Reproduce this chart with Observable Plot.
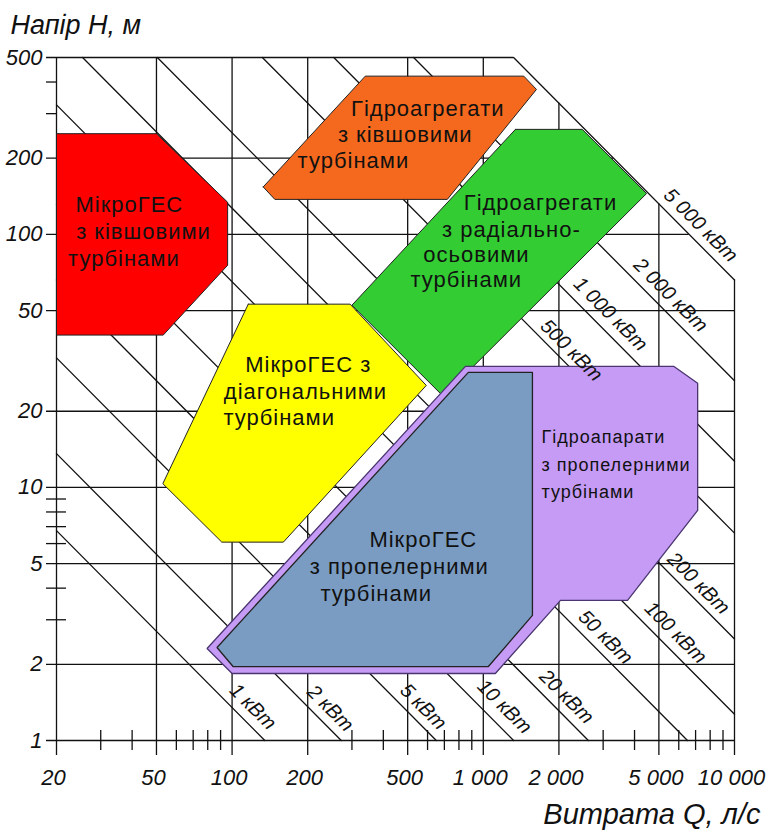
<!DOCTYPE html>
<html><head><meta charset="utf-8">
<script src="https://cdn.jsdelivr.net/npm/d3@7"></script>
<script src="https://cdn.jsdelivr.net/npm/@observablehq/plot@0.6"></script>
<style>
html,body{margin:0;padding:0;background:#fff;}
#chart svg{display:block;}
g[font-family^="Liberation Sans,"] text{letter-spacing:1px;}
</style>
</head><body><div id="chart"></div>
<script>
// ---- axes ----
const xMajor = [20, 50, 100, 200, 500, 1000, 2000, 5000, 10000];
const xMajorLabels = ["20", "50", "100", "200", "500", "1 000", "2 000", "5 000", "10 000"];
const xMinor = [30, 40, 60, 70, 80, 90, 300, 400, 600, 700, 800, 900, 3000, 4000, 6000, 7000, 8000, 9000];
const yMajor = [1, 2, 5, 10, 20, 50, 100, 200, 500];
const yMajorLabels = ["1", "2", "5", "10", "20", "50", "100", "200", "500"];
const yMinorBoth = [3, 4, 6, 7, 8, 9];
const yMinorOut = [300, 400];

// ---- constant-power lines: Q·H product (l/s · m) ----
const powerKW = [1, 2, 5, 10, 20, 50, 100, 200, 500, 1000, 2000, 5000];
const powerQH = [135, 272, 650, 1320, 2620, 6500, 12700, 25200, 66000, 127000, 264000, 660000];
const powerLabels = ["1 кВт", "2 кВт", "5 кВт", "10 кВт", "20 кВт", "50 кВт", "100 кВт", "200 кВт", "500 кВт", "1 000 кВт", "2 000 кВт", "5 000 кВт"];
const powerLabelQ = [121, 246, 577, 1214, 2144, 3066, 5830, 7194, 2244, 3210, 5568, 7334];
const powerLabelH = [1.36, 1.34, 1.36, 1.36, 1.49, 2.56, 2.67, 4.18, 34.8, 48.4, 57.5, 108.7];

// ---- regions (Q l/s, H m) ----
const redQ = [20, 50, 96, 96, 53.2, 20];
const redH = [250, 250, 134, 75.5, 40, 40];
const orangeQ = [133, 148, 719, 1628, 1449, 339];
const orangeH = [154, 137.5, 137.5, 374, 422, 422];
const greenQ = [1343, 2477, 4467, 693, 300];
const greenH = [260, 260, 145, 22.9, 52.5];
const yellowQ = [116, 295, 593, 160, 91, 53];
const yellowH = [53, 53, 25.3, 6.08, 6.08, 10.35];
const purpleQ = [849, 5724, 7134, 7134, 3752, 2029, 1117, 100, 79.5];
const purpleH = [30.1, 30.1, 25.8, 8.12, 3.58, 3.58, 1.84, 1.84, 2.31];
const blueQ = [872, 1569, 1569, 1048, 100.9, 87.1];
const blueH = [28.5, 28.5, 3.12, 1.96, 1.96, 2.33];

// ---- region labels ----
const redText = ["МікроГЕС", "з ківшовими", "турбінами"];
const redTextQ = [39.0, 44.4, 37.1];
const redTextH = [130.5, 102, 79.8];
const orangeText = ["Гідроагрегати", "з ківшовими", "турбінами"];
const orangeTextQ = [601, 489, 304];
const orangeTextH = [312.6, 246.7, 194.7];
const yellowText = ["МікроГЕС з", "діагональними", "турбінами"];
const yellowTextQ = [201, 196, 154];
const yellowTextH = [30.4, 23.8, 18.8];
const greenText = ["Гідроагрегати", "з радіально-", "осьовими", "турбінами"];
const greenTextQ = [1689, 1294, 939, 856];
const greenTextH = [132.9, 103.9, 82.8, 65.9];
const purpleText = ["Гідроапарати", "з пропелерними", "турбінами"];
const purpleTextQ = [1704, 1704, 1704];
const purpleTextH = [15.8, 12.2, 9.56];
const blueText = ["МікроГЕС", "з пропелерними", "турбінами"];
const blueTextQ = [577, 463, 375];
const blueTextH = [6.18, 4.83, 3.81];

const ITAL = "Liberation Sans Italic, Liberation Sans Narrow, Arimo, sans-serif";
const SANS = "Liberation Sans, Arial, sans-serif";
const INK = "#111";
const QH5000 = powerQH[powerQH.length - 1];

const closed = (qs, hs) => qs.map((q, i) => ({q, h: hs[i]})).concat([{q: qs[0], h: hs[0]}]);
const shape = (qs, hs, fill, stroke = "#222", sw = 1) =>
  Plot.line(closed(qs, hs), {x: "q", y: "h", fill, stroke, strokeWidth: sw, strokeLinejoin: "miter"});
const rows = (ts, qs, hs) => ts.map((t, i) => ({t, q: qs[i], h: hs[i]}));
const label = (ts, qs, hs, opts = {}) =>
  Plot.text(rows(ts, qs, hs), {x: "q", y: "h", text: "t", fontFamily: SANS, fontSize: 22, fill: "#111", ...opts});

const powerLines = powerQH.flatMap((qh, k) => {
  const q1 = Math.max(20, qh / 500), q2 = Math.min(10000, qh / 1);
  return [{k, q: q1, h: qh / q1}, {k, q: q2, h: qh / q2}];
});

const chart = Plot.plot({
  width: 766, height: 831,
  marginLeft: 56, marginRight: 32, marginTop: 57, marginBottom: 91,
  x: {type: "log", domain: [20, 10000], axis: null},
  y: {type: "log", domain: [1, 500], axis: null},
  marks: [
    // grid (clipped by the 5000 kW boundary)
    Plot.ruleY(yMajor.map(h => ({h, x2: Math.min(10000, QH5000 / h)})), {y: "h", x1: 20, x2: "x2", insetLeft: -10, stroke: INK, strokeWidth: 1.3}),
    Plot.ruleX(xMajor.map(q => ({q, y2: Math.min(500, QH5000 / q)})), {x: "q", y1: 1, y2: "y2", insetTop: 15, stroke: INK, strokeWidth: 1.3}),
    Plot.ruleX(xMinor, {x: d => d, y1: 1, y2: 1, insetTop: 10, insetBottom: 10, stroke: INK, strokeWidth: 1.3}),
    Plot.ruleY(yMinorBoth, {y: d => d, x1: 20, x2: 20, insetLeft: -10, insetRight: -10, stroke: INK, strokeWidth: 1.3}),
    Plot.ruleY(yMinorOut, {y: d => d, x1: 20, x2: 20, insetLeft: -10, insetRight: 0, stroke: INK, strokeWidth: 1.3}),
    // constant power lines
    Plot.line(powerLines, {x: "q", y: "h", z: "k", stroke: INK, strokeWidth: 1.3}),
    // regions
    shape(greenQ, greenH, "#33cc33"),
    shape(yellowQ, yellowH, "#ffff00"),
    shape(purpleQ, purpleH, "#c59bf6", "#4a3570", 1.3),
    shape(blueQ, blueH, "#7a9cc2", "#222", 1.3),
    shape(redQ, redH, "#ff0000"),
    shape(orangeQ, orangeH, "#f5691e"),
    // region labels
    label(redText, redTextQ, redTextH),
    label(orangeText, orangeTextQ, orangeTextH),
    label(yellowText, yellowTextQ, yellowTextH),
    label(greenText, greenTextQ, greenTextH),
    label(purpleText, purpleTextQ, purpleTextH, {textAnchor: "start", fontSize: 18}),
    label(blueText, blueTextQ, blueTextH),
    // power labels
    Plot.text(rows(powerLabels, powerLabelQ, powerLabelH), {x: "q", y: "h", text: "t", rotate: 45, fontFamily: ITAL, fontStyle: "italic", fontSize: 20, fill: INK}),
    // tick labels
    Plot.text(xMajor, {x: d => d, y: 1, text: (d, i) => xMajorLabels[i], dy: 37, dx: -3, fontFamily: ITAL, fontStyle: "italic", fontSize: 22, fill: INK}),
    Plot.text(yMajor, {x: 20, y: d => d, text: (d, i) => yMajorLabels[i], textAnchor: "end", dx: -14, fontFamily: ITAL, fontStyle: "italic", fontSize: 22, fill: INK}),
    // axis titles
    Plot.text(["Напір H, м"], {frameAnchor: "top-left", text: d => d, textAnchor: "start", lineAnchor: "bottom", dx: -46, dy: -24, fontFamily: ITAL, fontStyle: "italic", fontSize: 27, fill: INK}),
    Plot.text(["Витрата Q, л/с"], {frameAnchor: "bottom-right", text: d => d, textAnchor: "end", lineAnchor: "bottom", dx: 26, dy: 83, fontFamily: ITAL, fontStyle: "italic", fontSize: 29, fill: INK})
  ]
});
document.getElementById("chart").appendChild(chart);
</script>
</body></html>
